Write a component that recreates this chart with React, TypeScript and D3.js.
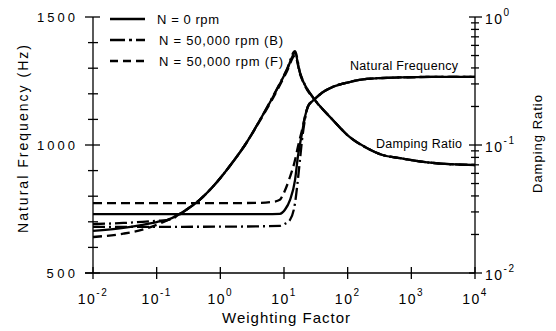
import { useRef, useEffect } from 'react';
import * as d3 from 'd3';

const WIDTH = 556;
const HEIGHT = 331;

// axis ticks
const xDecades = [1e-2, 1e-1, 1e0, 1e1, 1e2, 1e3, 1e4];
const xExponents = ['-2', '-1', '0', '1', '2', '3', '4'];
const freqMajor = [500, 1000, 1500];
const dampDecades = [1e-2, 1e-1, 1e0];
const dampExponents = ['-2', '-1', '0'];

// natural frequency (Hz) vs weighting factor
const freqTailW = [30.5, 40, 58.5, 107, 200, 663, 2180, 10000];
const freqTail = [1180, 1205, 1227, 1246, 1258, 1264, 1266, 1266];

const freqN0W = [0.01, 1, 5, 8.6, 10.4, 12.4, 14.9, 16.5, 19.2, 21.3, 23.6, 27.6];
const freqN0 = [730, 730, 730, 731, 748, 785, 863, 953, 1047, 1109, 1148, 1170];

const freqBW = [0.01, 1, 8.6, 10.4, 12.4, 14.9, 16.5, 17.8, 19.2, 21.3, 23.6, 27.6];
const freqB = [680, 681, 684, 692, 707, 773, 863, 941, 1020, 1098, 1150, 1172];

const freqFW = [0.01, 1, 4, 6.7, 8.6, 9.6, 12.4, 14.9, 16.5, 19.2, 21.3, 23.6, 27.6];
const freqF = [773, 773, 774, 778, 786, 805, 875, 941, 992, 1059, 1109, 1148, 1172];

// damping ratio vs weighting factor
const dampW = [0.01, 0.03, 0.06, 0.1, 0.145, 0.333, 0.479, 0.887, 1.58, 2.44, 4.2, 6.7, 11.1, 14.9,
  17.8, 21.3, 30.5, 58.5, 107, 200, 354, 663, 2180, 10000];
const dampN0 = [0.0213, 0.0225, 0.0238, 0.025, 0.0259, 0.0326, 0.0375, 0.0514, 0.074, 0.1, 0.157, 0.237, 0.385, 0.523,
  0.365, 0.294, 0.225, 0.157, 0.1155, 0.0948, 0.0835, 0.079, 0.0724, 0.0698];
const dampB = [0.0241, 0.0246, 0.0251, 0.0256, 0.0259, 0.0326, 0.0375, 0.0514, 0.074, 0.1, 0.157, 0.24, 0.39, 0.54,
  0.37, 0.296, 0.226, 0.157, 0.1155, 0.0948, 0.0835, 0.079, 0.0724, 0.0698];
const dampF = [0.0191, 0.0203, 0.0218, 0.0238, 0.0257, 0.0326, 0.0375, 0.0514, 0.074, 0.1, 0.155, 0.232, 0.375, 0.5,
  0.36, 0.29, 0.224, 0.157, 0.1155, 0.0948, 0.0835, 0.079, 0.0724, 0.0698];

const seriesLabels = ['N = 0 rpm', 'N = 50,000 rpm (B)', 'N = 50,000 rpm (F)'];
const seriesDash = ['none', '12,4,2,4', '9,5'];

const FONT = '"Liberation Sans", Arial, Helvetica, sans-serif';

export default function App() {
  const svgRef = useRef<SVGSVGElement>(null);

  useEffect(() => {
    const svg = d3.select(svgRef.current);
    svg.selectAll('*').remove();

    const x = d3.scaleLog().domain([1e-2, 1e4]).range([93, 475]);
    const yF = d3.scaleLinear().domain([500, 1500]).range([273, 17]);
    const yD = d3.scaleLog().domain([1e-2, 1]).range([273, 17]);

    const g = svg.append('g').attr('font-family', FONT).attr('fill', '#000');

    // axes lines
    const axis = g.append('g').attr('stroke', '#000').attr('stroke-width', 1.3);
    axis.append('line').attr('x1', x(1e-2)).attr('x2', x(1e-2)).attr('y1', yF(1500)).attr('y2', yF(500));
    axis.append('line').attr('x1', x(1e4)).attr('x2', x(1e4)).attr('y1', yD(1)).attr('y2', yD(1e-2));
    axis.append('line').attr('x1', x(1e-2) - 8).attr('x2', x(1e4)).attr('y1', yF(500)).attr('y2', yF(500));

    // left ticks
    yF.ticks(10).forEach((v) => {
      const major = freqMajor.includes(v);
      axis.append('line')
        .attr('x1', x(1e-2) - (major ? 8 : 5)).attr('x2', x(1e-2) + (major ? 7 : 5))
        .attr('y1', yF(v)).attr('y2', yF(v));
    });
    // right ticks
    yD.ticks().forEach((v) => {
      const major = dampDecades.some((d) => Math.abs(d - v) < 1e-9);
      axis.append('line')
        .attr('x1', x(1e4) - (major ? 6 : 4)).attr('x2', x(1e4) + (major ? 7 : 4))
        .attr('y1', yD(v)).attr('y2', yD(v));
    });
    // bottom ticks
    xDecades.forEach((v) => {
      axis.append('line').attr('x1', x(v)).attr('x2', x(v))
        .attr('y1', yF(500) - 6).attr('y2', yF(500) + 6);
    });

    // tick labels
    freqMajor.forEach((v) => {
      const s = String(v);
      g.append('text').attr('x', 75).attr('y', yF(v) + 5)
        .attr('text-anchor', 'end').attr('font-size', 13)
        .attr('textLength', s.length * 9.5).attr('lengthAdjust', 'spacing')
        .text(s);
    });
    xDecades.forEach((v, i) => {
      const t = g.append('text').attr('x', x(v)).attr('y', yF(500) + 31)
        .attr('text-anchor', 'middle').attr('font-size', 14).attr('letter-spacing', 1.5);
      t.append('tspan').text('10');
      t.append('tspan').attr('font-size', 10).attr('dy', -8).text(xExponents[i]);
    });
    dampDecades.forEach((v, i) => {
      const t = g.append('text').attr('x', 485).attr('y', yD(v) + 7)
        .attr('font-size', 14).attr('letter-spacing', 1.5);
      t.append('tspan').text('10');
      t.append('tspan').attr('font-size', 10).attr('dy', -8).text(dampExponents[i]);
    });

    // axis titles
    g.append('text').attr('x', 222).attr('y', 323).attr('font-size', 15)
      .attr('textLength', 128).attr('lengthAdjust', 'spacing').text('Weighting Factor');
    g.append('text').attr('transform', 'translate(28,139) rotate(-90)')
      .attr('text-anchor', 'middle').attr('font-size', 14)
      .attr('textLength', 188).attr('lengthAdjust', 'spacing').text('Natural Frequency (Hz)');
    g.append('text').attr('transform', 'translate(542,144) rotate(-90)')
      .attr('text-anchor', 'middle').attr('font-size', 13)
      .attr('textLength', 98).attr('lengthAdjust', 'spacing').text('Damping Ratio');

    // curve annotations
    g.append('text').attr('x', 350).attr('y', 70).attr('font-size', 12.5)
      .attr('textLength', 108).attr('lengthAdjust', 'spacing').text('Natural Frequency');
    g.append('text').attr('x', 376).attr('y', 148).attr('font-size', 12.5)
      .attr('textLength', 86).attr('lengthAdjust', 'spacing').text('Damping Ratio');

    // curves
    const freqLine = d3.line<[number, number]>()
      .x((d) => x(d[0])).y((d) => yF(d[1])).curve(d3.curveMonotoneX);
    const dampLine = d3.line<[number, number]>()
      .x((d) => x(d[0])).y((d) => yD(d[1])).curve(d3.curveMonotoneX);

    const zip = (w: number[], v: number[]) => w.map((wi, i) => [wi, v[i]] as [number, number]);
    const freqSeries = [
      zip(freqN0W.concat(freqTailW), freqN0.concat(freqTail)),
      zip(freqBW.concat(freqTailW), freqB.concat(freqTail)),
      zip(freqFW.concat(freqTailW), freqF.concat(freqTail)),
    ];
    const dampSeries = [zip(dampW, dampN0), zip(dampW, dampB), zip(dampW, dampF)];

    const curves = g.append('g').attr('fill', 'none').attr('stroke', '#000')
      .attr('stroke-width', 2.3).attr('stroke-linejoin', 'round');
    freqSeries.forEach((s, i) => {
      curves.append('path').attr('d', freqLine(s)).attr('stroke-dasharray', seriesDash[i]);
    });
    dampSeries.forEach((s, i) => {
      curves.append('path').attr('d', dampLine(s)).attr('stroke-dasharray', seriesDash[i]);
    });

    // legend
    const legend = g.append('g');
    seriesLabels.forEach((label, i) => {
      const ly = 19 + i * 21;
      legend.append('line').attr('x1', 110).attr('x2', 145).attr('y1', ly).attr('y2', ly)
        .attr('stroke', '#000').attr('stroke-width', 2.5)
        .attr('stroke-dasharray', i === 1 ? '15,4,3,4' : i === 2 ? '8,5' : 'none');
      legend.append('text').attr('x', i === 0 ? 157 : 159).attr('y', ly + 5).attr('font-size', 13)
        .attr('textLength', i === 0 ? 62 : 124).attr('lengthAdjust', 'spacing')
        .text(label);
    });
  }, []);

  return (
    <div style={{ position: 'absolute', left: 0, top: 0 }}>
      <svg ref={svgRef} width={WIDTH} height={HEIGHT} style={{ display: 'block', background: '#fff' }} />
    </div>
  );
}
